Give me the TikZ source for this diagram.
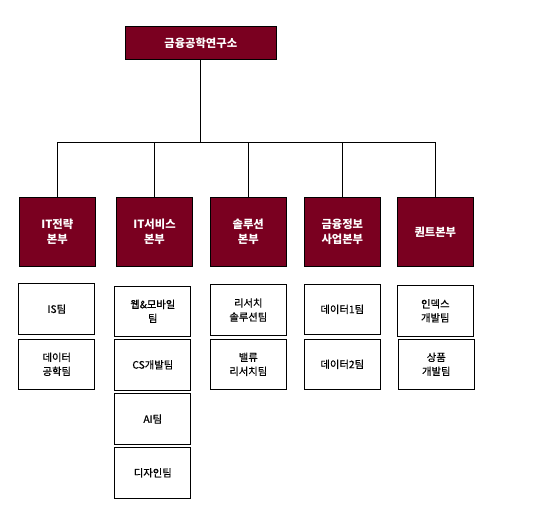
\documentclass[tikz,border=0pt]{standalone}
\usepackage{fontspec}
\setmainfont{Noto Sans CJK KR}
\newfontfamily\teamfont[FakeBold=0.6]{Noto Sans CJK KR}
\definecolor{maroon}{HTML}{7A0020}
\begin{document}
\begin{tikzpicture}[x=1pt,y=-1pt,
  headbox/.style={draw=black,line width=0.8pt,fill=maroon,text=white,font=\fontsize{11.3}{15}\selectfont\bfseries,align=center,inner sep=0pt,minimum width=75.5pt,minimum height=69pt},
  topbox/.style={headbox,minimum width=151pt,minimum height=33pt},
  teambox/.style={draw=black,line width=0.8pt,fill=white,text=black,font=\fontsize{10.3}{14}\selectfont\teamfont,align=center,inner sep=0pt,minimum width=76pt,minimum height=50.5pt},
  link/.style={draw=black,line width=0.7pt}]
\useasboundingbox (0,0) rectangle (542,515);
\node[topbox] (top) at (200.8,43) {금융공학연구소};
\node[headbox] (d1) at (57.3,232) {IT전략\\본부};
\node[headbox] (d2) at (154.5,232) {IT서비스\\본부};
\node[headbox] (d3) at (248.3,232) {솔루션\\본부};
\node[headbox] (d4) at (342.3,232) {금융정보\\사업본부};
\node[headbox] (d5) at (435.3,232) {퀀트본부};
\coordinate (bar) at (0,142);
\draw[link] (top.south) -- (top.south |- bar);
\draw[link] (d1.north |- bar) -- (d5.north |- bar);
\foreach \d in {d1,d2,d3,d4,d5}{\draw[link] (\d.north) -- (\d.north |- bar);}
\node[teambox] (t11) at (56.8,309) {IS팀};
\node[teambox] (t12) at (56.8,364.3) {데이터\\공학팀};
\node[teambox] (t21) at (152.8,311.3) {웹\&모바일\\팀};
\node[teambox] (t22) at (152.8,364.8) {CS개발팀};
\node[teambox] (t23) at (152.8,419) {AI팀};
\node[teambox] (t24) at (152.8,472.8) {디자인팀};
\node[teambox] (t31) at (248.3,310) {리서치\\솔루션팀};
\node[teambox] (t32) at (248.3,364.3) {밸류\\리서치팀};
\node[teambox] (t41) at (342.3,309.3) {데이터1팀};
\node[teambox] (t42) at (342.3,364.3) {데이터2팀};
\node[teambox] (t51) at (435.3,310.8) {인덱스\\개발팀};
\node[teambox] (t52) at (436.3,364.3) {상품\\개발팀};
\end{tikzpicture}
\end{document}
